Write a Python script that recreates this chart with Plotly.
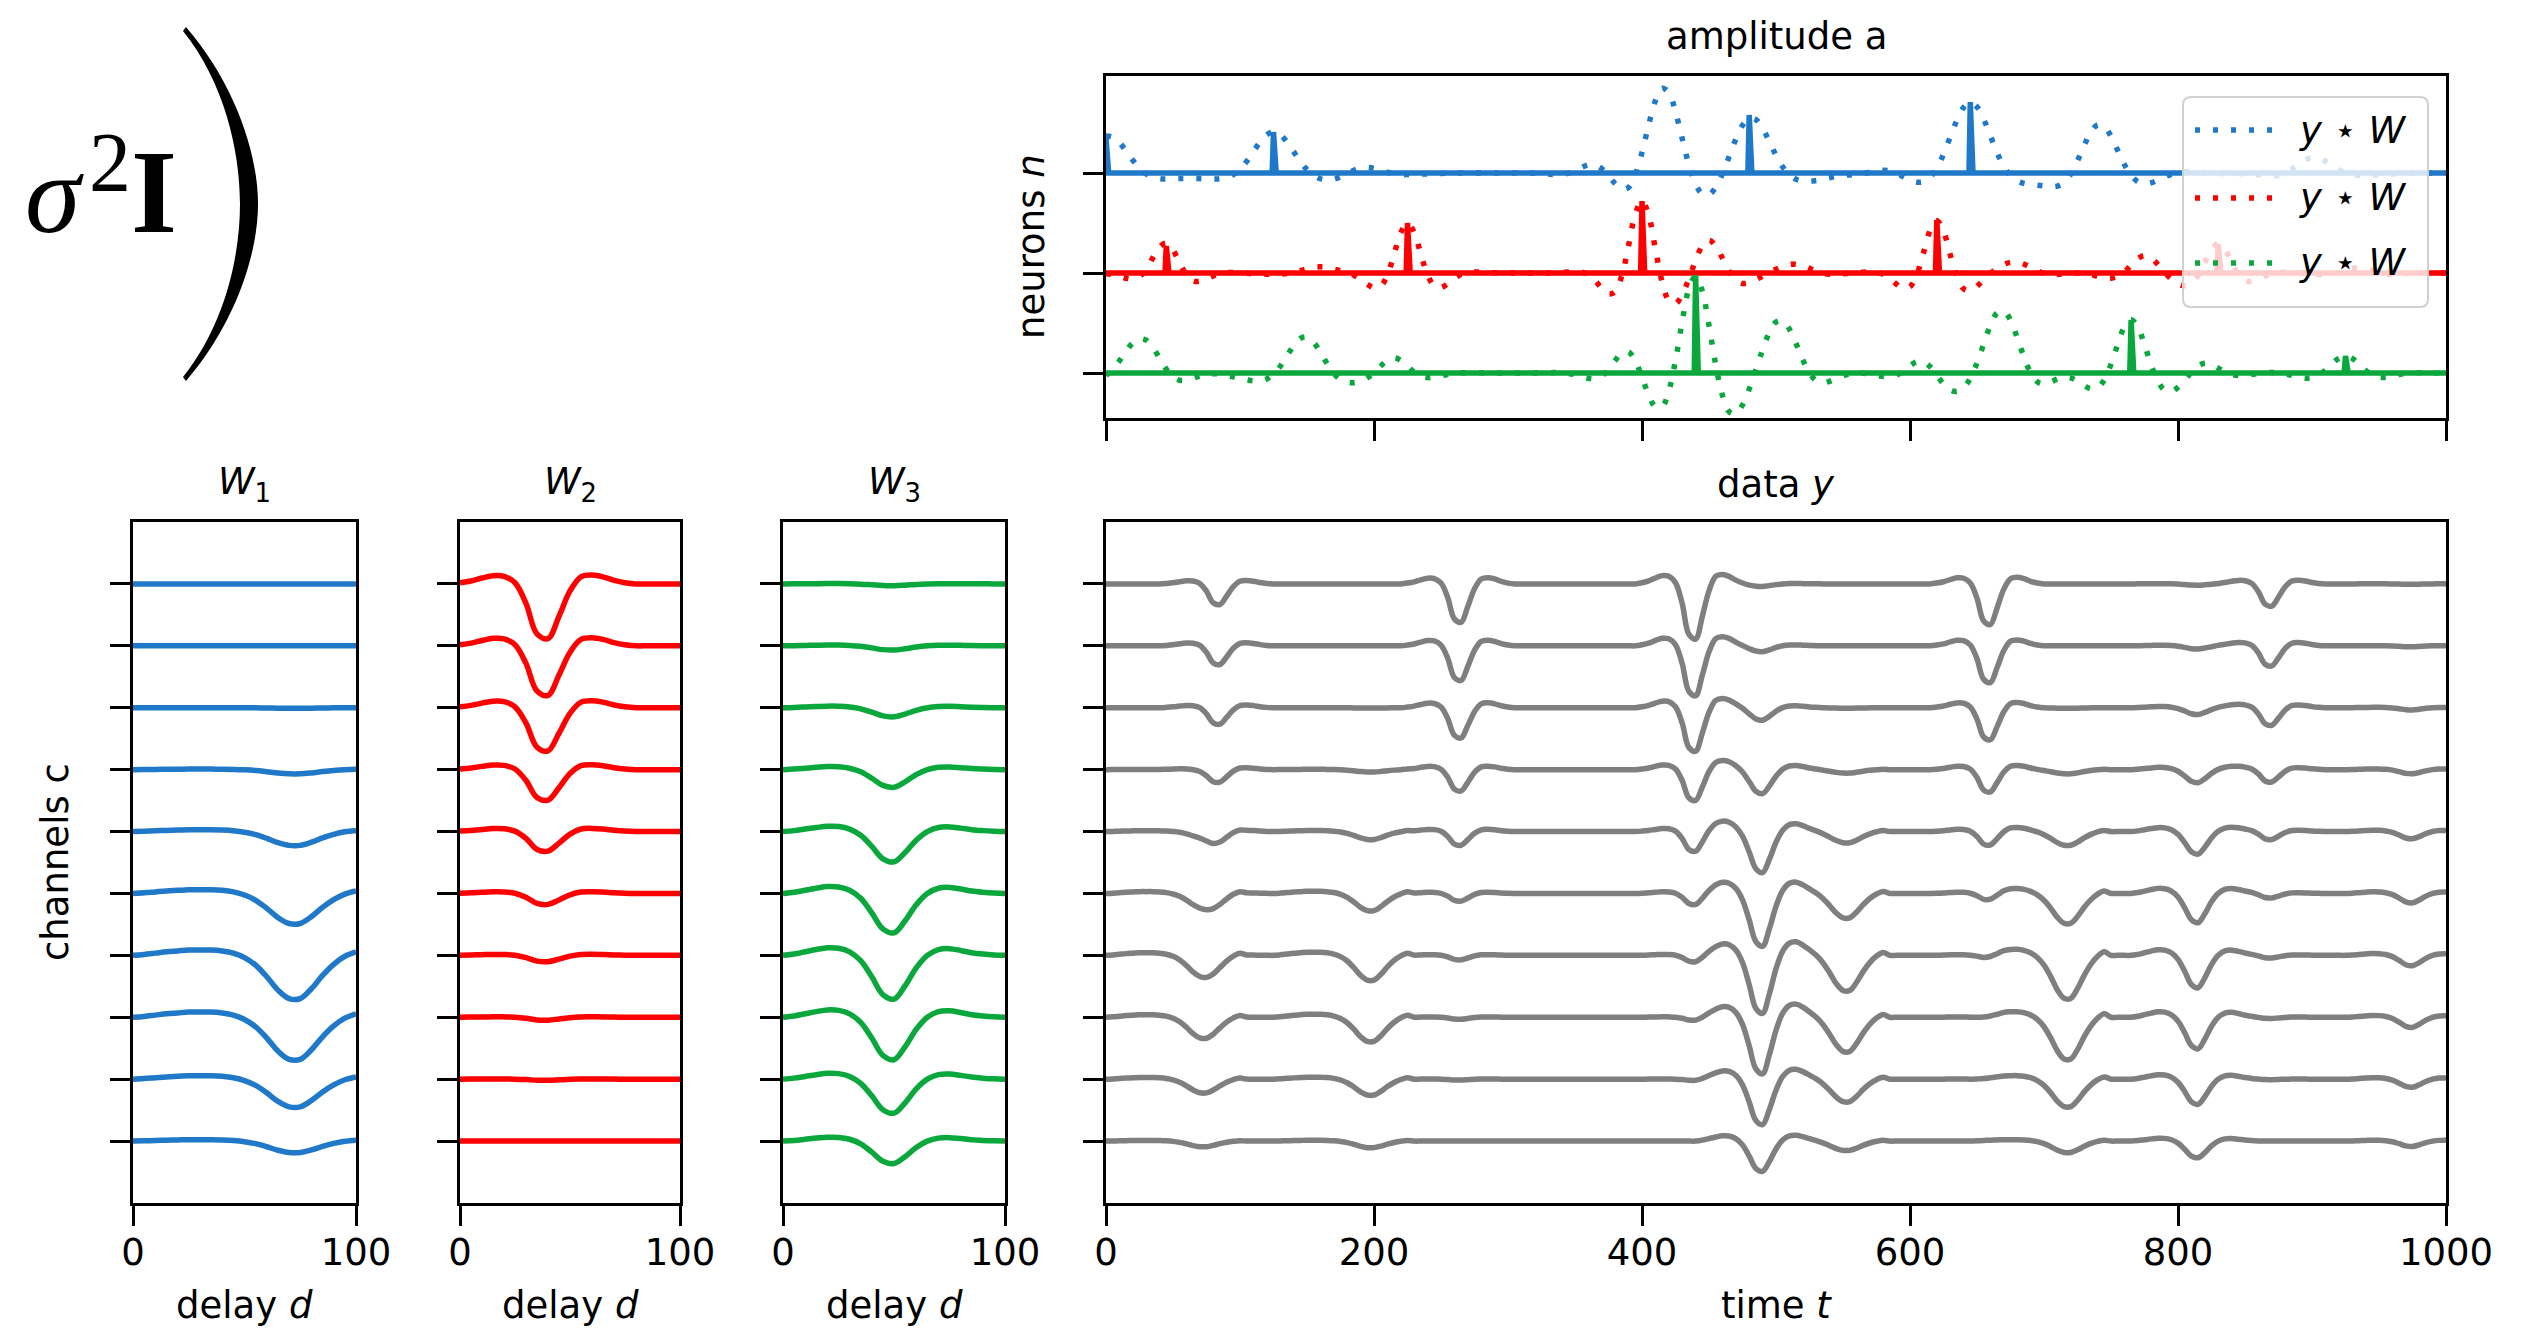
import numpy as np
import plotly.graph_objects as go

FIG_W, FIG_H = 2535, 1334

# ---- sampling grids -------------------------------------------------------
DELAY = list(range(0, 101, 5))          # template delay axis d
TIME = list(range(0, 1001, 5))          # data time axis t
CHANNEL_COUNT = 10

# ---- temporal waveforms of the three templates (trough normalised to ~ -1) --
W1_WAVE = [0.00, 0.02, 0.05, 0.08, 0.10, 0.12, 0.12, 0.12, 0.10, 0.05, -0.05,
           -0.22, -0.48, -0.78, -0.97, -0.97, -0.75, -0.45, -0.20, -0.02, 0.08]
W2_WAVE = [0.02, 0.05, 0.10, 0.14, 0.13, 0.02, -0.33, -0.85, -0.93, -0.55, -0.12,
           0.12, 0.15, 0.12, 0.06, 0.02, 0.00, 0.00, 0.00, 0.00, 0.00]
W3_WAVE = [0.00, 0.03, 0.08, 0.13, 0.17, 0.16, 0.08, -0.12, -0.48, -0.88, -0.98,
           -0.68, -0.28, 0.00, 0.13, 0.15, 0.11, 0.06, 0.03, 0.01, 0.00]

# ---- per-channel footprint of each template --------------------------------
W1_GAIN = [0.00, 0.00, 0.01, 0.07, 0.23, 0.50, 0.72, 0.70, 0.46, 0.19]
W2_GAIN = [0.95, 0.86, 0.75, 0.53, 0.34, 0.19, 0.11, 0.05, 0.02, 0.00]
W3_GAIN = [0.03, 0.07, 0.15, 0.29, 0.50, 0.65, 0.72, 0.70, 0.56, 0.37]

# ---- spike times and amplitudes per neuron ----------------------------------
N1_TIMES = [0, 125, 480, 645]
N1_AMPS = [0.35, 0.41, 0.58, 0.71]
N2_TIMES = [45, 225, 400, 620, 830]
N2_AMPS = [0.27, 0.50, 0.72, 0.53, 0.29]
N3_TIMES = [440, 765, 925]
N3_AMPS = [0.98, 0.53, 0.17]

DATA_GAIN = 1.4

NEURON_COLORS = ["#1f78c8", "#ff0000", "#0aa83c"]
DATA_COLOR = "#7f7f7f"
FONT = "DejaVu Sans"
FS = 37
LW = 5.5

# ---- build templates, data y and the correlations y * W ---------------------
waves = np.array([W1_WAVE, W2_WAVE, W3_WAVE])
gains = np.array([W1_GAIN, W2_GAIN, W3_GAIN])
templates = gains[:, :, None] * waves[:, None, :]        # neuron, channel, delay

spikes = [(N1_TIMES, N1_AMPS), (N2_TIMES, N2_AMPS), (N3_TIMES, N3_AMPS)]
step = TIME[1] - TIME[0]
nT, nD = len(TIME), len(DELAY)

data = np.zeros((CHANNEL_COUNT, nT))
for n, (times, amps) in enumerate(spikes):
    for t, a in zip(times, amps):
        k = t // step
        m = min(nD, nT - k)
        data[:, k:k + m] += DATA_GAIN * a * templates[n][:, :m]

xcorr = np.zeros((3, nT))
for n in range(3):
    norm = DATA_GAIN * np.sum(templates[n] ** 2)
    for k in range(nT):
        m = min(nD, nT - k)
        xcorr[n, k] = np.sum(data[:, k:k + m] * templates[n][:, :m]) / norm

amp_t = np.arange(0, 1001)
amp = np.zeros((3, amp_t.size))
for n, (times, amps) in enumerate(spikes):
    for t, a in zip(times, amps):
        amp[n, t] = a


def px(x):
    return x / FIG_W


def py(y):
    return 1 - y / FIG_H


fig = go.Figure()

# template panels W1..W3
for n in range(3):
    ax = "" if n == 0 else str(n + 1)
    for c in range(CHANNEL_COUNT):
        fig.add_trace(go.Scatter(
            x=DELAY, y=templates[n][c] - c, mode="lines",
            line=dict(color=NEURON_COLORS[n], width=LW, shape="spline"),
            xaxis="x" + ax, yaxis="y" + ax, showlegend=False, hoverinfo="skip"))

# data panel
for c in range(CHANNEL_COUNT):
    fig.add_trace(go.Scatter(
        x=TIME, y=data[c] - c, mode="lines",
        line=dict(color=DATA_COLOR, width=LW, shape="spline"),
        xaxis="x4", yaxis="y4", showlegend=False, hoverinfo="skip"))

# amplitude panel
for n in range(3):
    fig.add_trace(go.Scatter(
        x=amp_t, y=amp[n] - n, mode="lines",
        line=dict(color=NEURON_COLORS[n], width=LW),
        xaxis="x5", yaxis="y5", showlegend=False, hoverinfo="skip"))
    fig.add_trace(go.Scatter(
        x=TIME, y=xcorr[n] - n, mode="lines",
        line=dict(color=NEURON_COLORS[n], width=LW, shape="spline", dash="5px,13px"),
        xaxis="x5", yaxis="y5", showlegend=False, hoverinfo="skip"))

axis_style = dict(showline=True, linecolor="black", linewidth=3, mirror=True,
                  ticks="outside", ticklen=20, tickwidth=3, tickcolor="black",
                  showgrid=False, zeroline=False,
                  tickfont=dict(family=FONT, size=FS, color="black"))

panel_y = [py(1203), py(522)]
chan_ticks = [-c for c in range(CHANNEL_COUNT)]
layout = dict(width=FIG_W, height=FIG_H,
              margin=dict(l=0, r=0, t=0, b=0, autoexpand=False),
              paper_bgcolor="white", plot_bgcolor="white",
              font=dict(family=FONT, size=FS, color="black"))

x_domains = [(133, 356), (460, 680), (783, 1005)]
for i, (x0, x1) in enumerate(x_domains):
    k = "" if i == 0 else str(i + 1)
    layout["xaxis" + k] = dict(axis_style, domain=[px(x0), px(x1)], range=[0, 100],
                               tickvals=[0, 100], ticklabelstandoff=-5, anchor="y" + k)
    layout["yaxis" + k] = dict(axis_style, domain=panel_y, range=[-10, 1],
                               tickvals=chan_ticks, showticklabels=False, anchor="x" + k)

layout["xaxis4"] = dict(axis_style, domain=[px(1106), px(2446)], range=[0, 1000],
                        tickvals=list(range(0, 1001, 200)), ticklabelstandoff=-5,
                        anchor="y4")
layout["yaxis4"] = dict(axis_style, domain=panel_y, range=[-10, 1],
                        tickvals=chan_ticks, showticklabels=False, anchor="x4")
layout["xaxis5"] = dict(axis_style, domain=[px(1106), px(2446)], range=[0, 1000],
                        tickvals=list(range(0, 1001, 200)), showticklabels=False,
                        anchor="y5")
layout["yaxis5"] = dict(axis_style, domain=[py(418), py(76)], range=[-2.45, 0.97],
                        tickvals=[0, -1, -2], showticklabels=False, anchor="x5")
fig.update_layout(**layout)


def label(text, x, y, size=FS, angle=0, family=FONT):
    fig.add_annotation(text=text, x=px(x), y=py(y), xref="paper", yref="paper",
                       showarrow=False, xanchor="center", yanchor="middle",
                       textangle=angle, font=dict(family=family, size=size, color="black"))


# panel titles and axis labels
for i, (x0, x1) in enumerate(x_domains):
    label(f"<i>W</i><sub>{i + 1}</sub>", (x0 + x1) / 2, 484)
    label("delay <i>d</i>", (x0 + x1) / 2, 1305)
label("data <i>y</i>", (1106 + 2446) / 2, 484)
label("time <i>t</i>", (1106 + 2446) / 2, 1305)
label("amplitude a", (1106 + 2446) / 2, 36)
label("channels c", 55, 862, angle=-90)
label("neurons <i>n</i>", 1032, 247, angle=-90)

# covariance term of the generative model
label("<i>σ</i>", 54, 194, size=112, family="Liberation Serif")
label("2", 110, 162, size=84, family="Liberation Serif")
label("<b>I</b>", 154, 193, size=118, family="Liberation Serif")


def path(points):
    out = []
    for cmd, pts in points:
        coords = " ".join(f"{px(x):.5f},{py(y):.5f}" for x, y in pts)
        out.append(f"{cmd}{coords}")
    return " ".join(out) + " Z"


paren = path([
    ("M", [(186, 27)]),
    ("C", [(232, 80), (258, 150), (258, 204)]),
    ("C", [(258, 258), (232, 328), (186, 381)]),
    ("L", [(183, 377)]),
    ("C", [(224, 326), (240, 258), (240, 204)]),
    ("C", [(240, 150), (224, 82), (183, 31)]),
])
fig.add_shape(type="path", path=paren, xref="paper", yref="paper",
              fillcolor="black", line=dict(width=0))

# legend box
bx0, by0, bx1, by1, r = 2183, 97, 2428, 307, 8
box = path([
    ("M", [(bx0 + r, by0)]), ("L", [(bx1 - r, by0)]), ("Q", [(bx1, by0), (bx1, by0 + r)]),
    ("L", [(bx1, by1 - r)]), ("Q", [(bx1, by1), (bx1 - r, by1)]),
    ("L", [(bx0 + r, by1)]), ("Q", [(bx0, by1), (bx0, by1 - r)]),
    ("L", [(bx0, by0 + r)]), ("Q", [(bx0, by0), (bx0 + r, by0)]),
])
fig.add_shape(type="path", path=box, xref="paper", yref="paper", layer="above",
              fillcolor="rgba(255,255,255,0.8)", line=dict(color="#d0d0d0", width=2))
for n, yc in enumerate([130, 198, 263]):
    fig.add_shape(type="line", xref="paper", yref="paper", layer="above",
                  x0=px(2195), x1=px(2272), y0=py(yc), y1=py(yc),
                  line=dict(color=NEURON_COLORS[n], width=LW, dash="5px,13px"))
    label("<i>y</i> ⋆ <i>W</i>", 2353, yc)

fig.write_html("out.html")
